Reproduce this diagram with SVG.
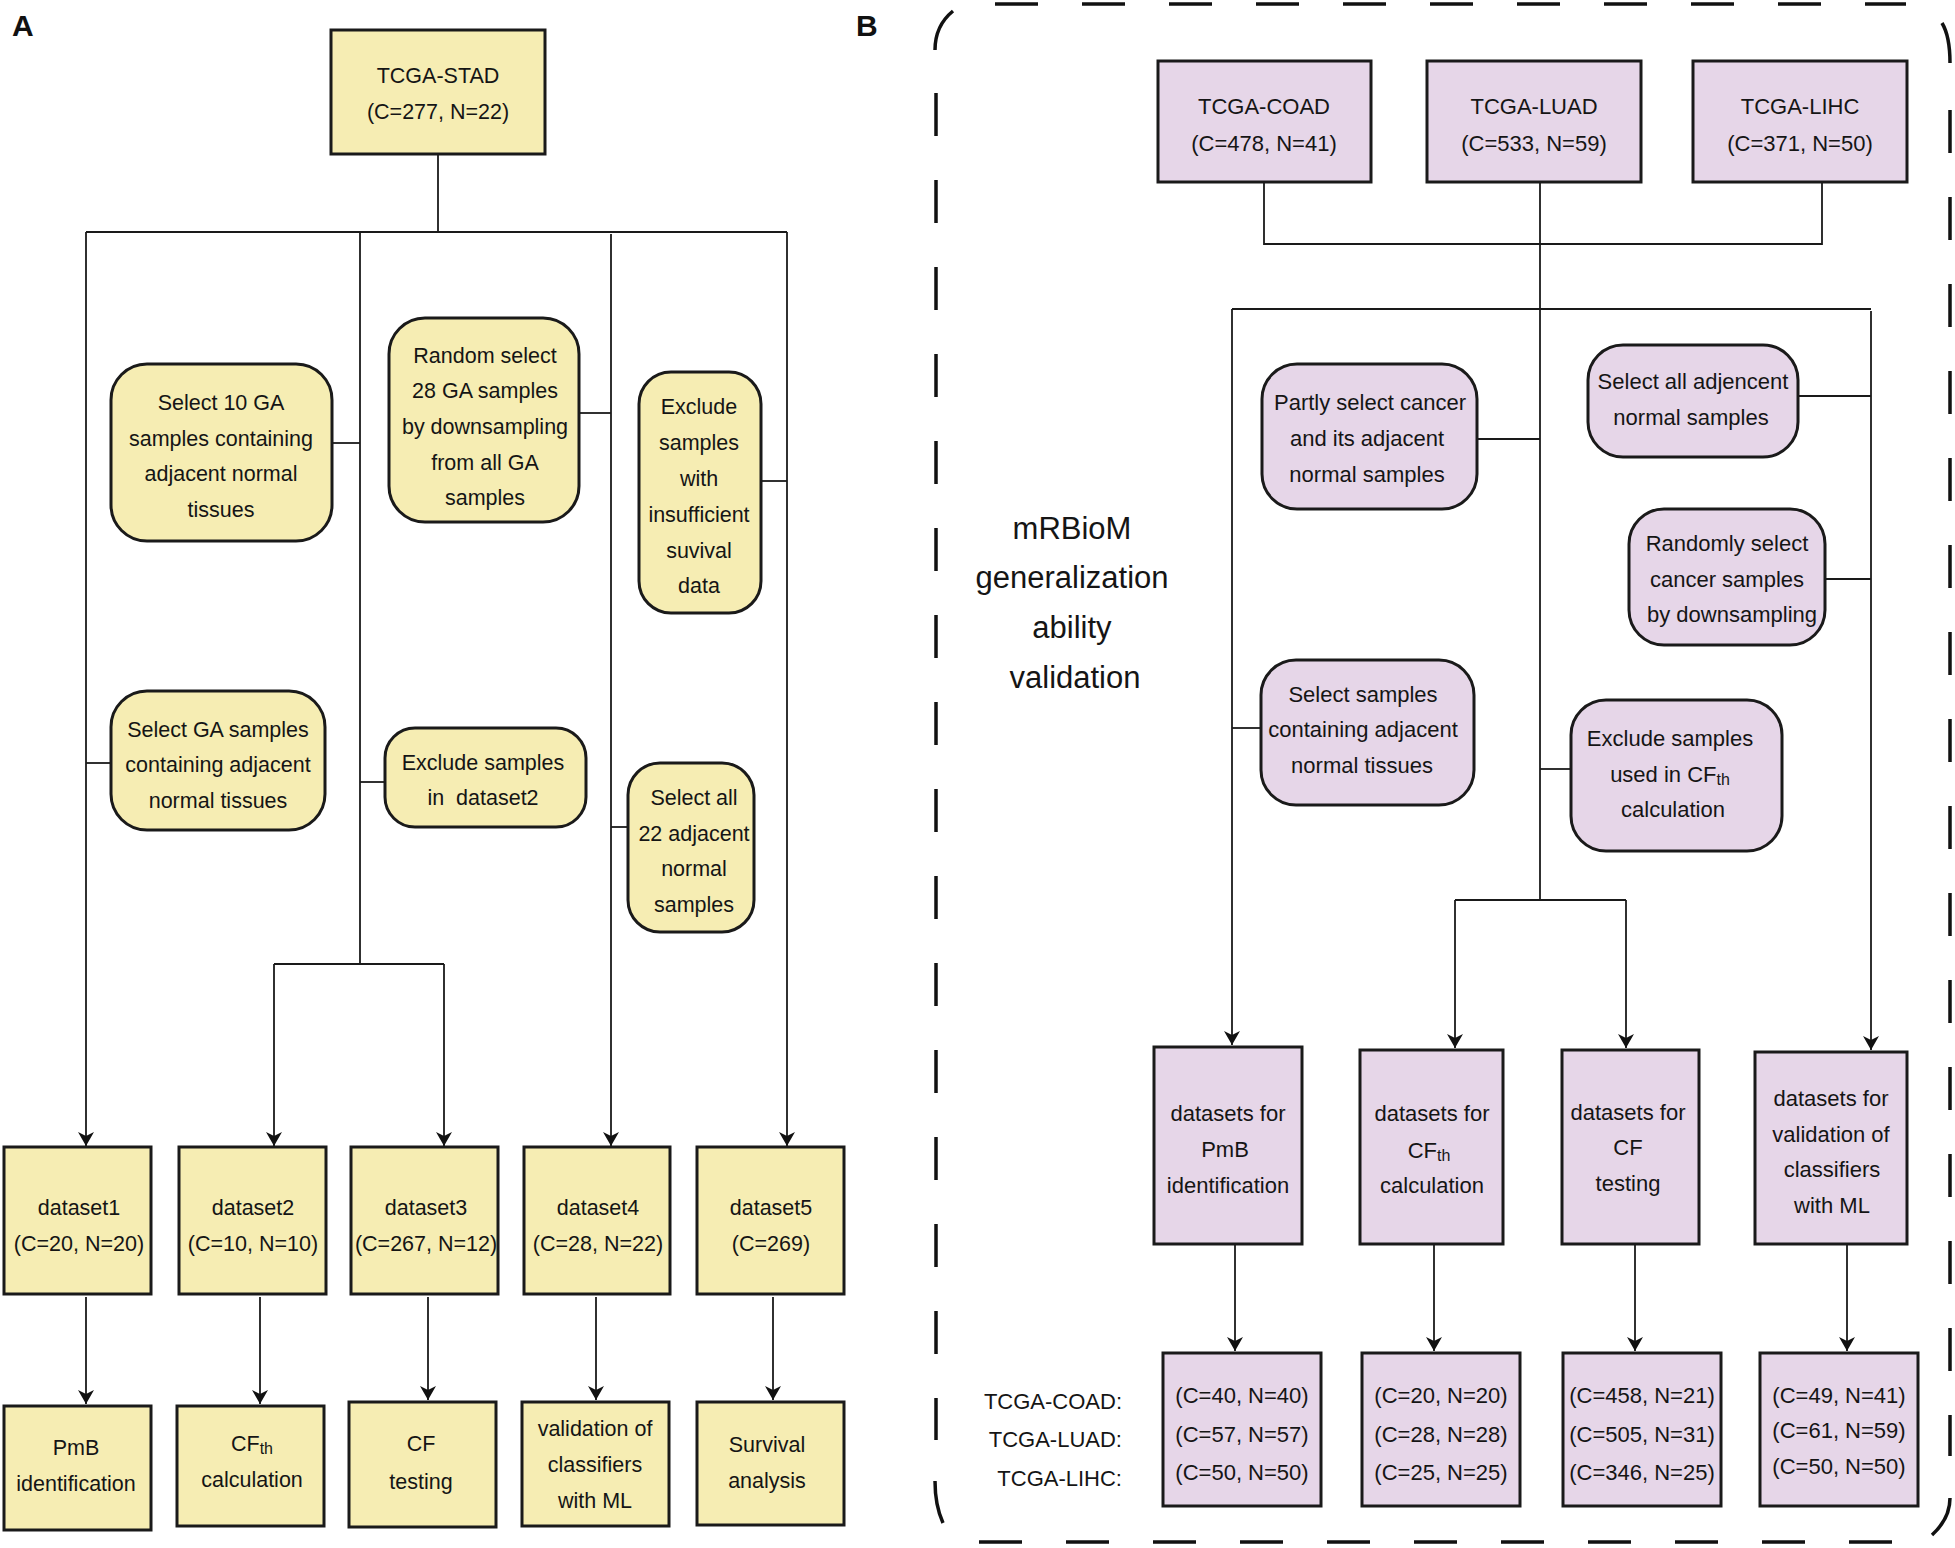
<svg xmlns="http://www.w3.org/2000/svg" width="1955" height="1548" viewBox="0 0 1955 1548">
<defs>
<marker id="arr" viewBox="0 0 14 16" refX="14" refY="8" markerWidth="14" markerHeight="16" markerUnits="userSpaceOnUse" orient="auto">
<path d="M0,0 L14,8 L0,16 L4,8 Z" fill="#111"/>
</marker>
<style>
.t{font-family:"Liberation Sans",Arial,sans-serif;font-size:21.5px;fill:#151515;text-anchor:middle}
.tb{font-family:"Liberation Sans",Arial,sans-serif;font-size:22px;fill:#151515;text-anchor:middle}
.big{font-family:"Liberation Sans",Arial,sans-serif;font-size:31px;fill:#151515;text-anchor:middle}
.lab{font-family:"Liberation Sans",Arial,sans-serif;font-size:30px;font-weight:bold;fill:#111}
.rl{font-family:"Liberation Sans",Arial,sans-serif;font-size:22px;fill:#151515;text-anchor:end}
.sub{font-size:16px}
.ya{fill:#F6EDB3;stroke:#1a1a1a;stroke-width:3}
.pb{fill:#E6D6E8;stroke:#1a1a1a;stroke-width:3}
.c{fill:none;stroke:#1a1a1a;stroke-width:1.8}
.ca{fill:none;stroke:#1a1a1a;stroke-width:1.8;marker-end:url(#arr)}
.d{fill:none;stroke:#111;stroke-width:3.5;stroke-dasharray:43 44}
.arc{fill:none;stroke:#111;stroke-width:3.5}
</style>
</defs>
<rect width="1955" height="1548" fill="#fff"/>

<text class="lab" x="12" y="36">A</text>
<text class="lab" x="856" y="36">B</text>

<!-- Panel B border -->
<g id="border">
<path class="d" d="M995,4 H1906"/>
<path class="d" d="M979,1542 H1892"/>
<path class="d" d="M936,93 V1440"/>
<path class="d" d="M1950,110 V1456"/>
<path class="arc" d="M935,50 C935,33 942,20 953,11"/>
<path class="arc" d="M1942,23 C1948,33 1950,46 1950,63"/>
<path class="arc" d="M935,1481 C935,1498 938,1512 943,1523"/>
<path class="arc" d="M1950,1498 C1950,1512 1943,1525 1932,1535"/>
</g>

<!-- Connectors -->
<g id="connectors">
<path class="c" d="M438,154 V232"/>
<path class="c" d="M86,232 H787"/>
<path class="ca" d="M86,232 V1146"/>
<path class="c" d="M360,232 V964"/>
<path class="c" d="M274,964 H444"/>
<path class="ca" d="M274,964 V1146"/>
<path class="ca" d="M444,964 V1146"/>
<path class="ca" d="M611,234 V1146"/>
<path class="ca" d="M787,232 V1146"/>
<path class="c" d="M332,443 H360"/>
<path class="c" d="M579,413 H611"/>
<path class="c" d="M761,481 H787"/>
<path class="c" d="M86,763 H111"/>
<path class="c" d="M360,782 H385"/>
<path class="c" d="M611,827 H628"/>
<path class="ca" d="M86,1297 V1404"/>
<path class="ca" d="M260,1297 V1404"/>
<path class="ca" d="M428,1297 V1400"/>
<path class="ca" d="M596,1297 V1400"/>
<path class="ca" d="M773,1297 V1400"/>

<path class="c" d="M1264,182 V244 H1822 V182"/>
<path class="c" d="M1540,182 V900"/>
<path class="c" d="M1232,309 H1871"/>
<path class="ca" d="M1232,309 V1045"/>
<path class="ca" d="M1871,311 V1050"/>
<path class="c" d="M1455,900 H1626"/>
<path class="ca" d="M1455,900 V1048"/>
<path class="ca" d="M1626,900 V1048"/>
<path class="c" d="M1477,439 H1540"/>
<path class="c" d="M1798,396 H1871"/>
<path class="c" d="M1825,579 H1871"/>
<path class="c" d="M1232,728 H1261"/>
<path class="c" d="M1540,769 H1571"/>
<path class="ca" d="M1235,1244 V1351"/>
<path class="ca" d="M1434,1244 V1351"/>
<path class="ca" d="M1635,1244 V1351"/>
<path class="ca" d="M1847,1244 V1351"/>
</g>

<!-- Panel A nodes -->
<g id="stad"><rect class="ya" x="331" y="30" width="214" height="124"/>
<text class="t" x="438" y="83">TCGA-STAD</text><text class="t" x="438" y="119">(C=277, N=22)</text></g>

<g id="sel10"><rect class="ya" x="111" y="364" width="221" height="177" rx="36"/>
<text class="t" x="221" y="410">Select 10 GA</text><text class="t" x="221" y="446">samples containing</text><text class="t" x="221" y="481">adjacent normal</text><text class="t" x="221" y="517">tissues</text></g>

<g id="random28"><rect class="ya" x="389" y="318" width="190" height="204" rx="36"/>
<text class="t" x="485" y="363">Random select</text><text class="t" x="485" y="398">28 GA samples</text><text class="t" x="485" y="434">by downsampling</text><text class="t" x="485" y="470">from all GA</text><text class="t" x="485" y="505">samples</text></g>

<g id="exclsurv"><rect class="ya" x="639" y="372" width="122" height="241" rx="32"/>
<text class="t" x="699" y="414">Exclude</text><text class="t" x="699" y="450">samples</text><text class="t" x="699" y="486">with</text><text class="t" x="699" y="522">insufficient</text><text class="t" x="699" y="558">suvival</text><text class="t" x="699" y="593">data</text></g>

<g id="selGA"><rect class="ya" x="111" y="691" width="214" height="139" rx="36"/>
<text class="t" x="218" y="737">Select GA samples</text><text class="t" x="218" y="772">containing adjacent</text><text class="t" x="218" y="808">normal tissues</text></g>

<g id="exclds2"><rect class="ya" x="385" y="728" width="201" height="99" rx="30"/>
<text class="t" x="483" y="770">Exclude samples</text><text class="t" x="483" y="805" xml:space="preserve">in  dataset2</text></g>

<g id="sel22"><rect class="ya" x="628" y="763" width="126" height="169" rx="32"/>
<text class="t" x="694" y="805">Select all</text><text class="t" x="694" y="841">22 adjacent</text><text class="t" x="694" y="876">normal</text><text class="t" x="694" y="912">samples</text></g>

<g id="ds1"><rect class="ya" x="4" y="1147" width="147" height="147"/>
<text class="t" x="79" y="1215">dataset1</text><text class="t" x="79" y="1251">(C=20, N=20)</text></g>
<g id="ds2"><rect class="ya" x="179" y="1147" width="147" height="147"/>
<text class="t" x="253" y="1215">dataset2</text><text class="t" x="253" y="1251">(C=10, N=10)</text></g>
<g id="ds3"><rect class="ya" x="351" y="1147" width="147" height="147"/>
<text class="t" x="426" y="1215">dataset3</text><text class="t" x="426" y="1251">(C=267, N=12)</text></g>
<g id="ds4"><rect class="ya" x="524" y="1147" width="146" height="147"/>
<text class="t" x="598" y="1215">dataset4</text><text class="t" x="598" y="1251">(C=28, N=22)</text></g>
<g id="ds5"><rect class="ya" x="697" y="1147" width="147" height="147"/>
<text class="t" x="771" y="1215">dataset5</text><text class="t" x="771" y="1251">(C=269)</text></g>

<g id="pmb"><rect class="ya" x="4" y="1406" width="147" height="124"/>
<text class="t" x="76" y="1455">PmB</text><text class="t" x="76" y="1491">identification</text></g>
<g id="cfth"><rect class="ya" x="177" y="1406" width="147" height="120"/>
<text class="t" x="252" y="1451">CF<tspan class="sub" dy="3">th</tspan></text><text class="t" x="252" y="1487">calculation</text></g>
<g id="cftest"><rect class="ya" x="349" y="1402" width="147" height="125"/>
<text class="t" x="421" y="1451">CF</text><text class="t" x="421" y="1489">testing</text></g>
<g id="valml"><rect class="ya" x="522" y="1402" width="147" height="124"/>
<text class="t" x="595" y="1436">validation of</text><text class="t" x="595" y="1472">classifiers</text><text class="t" x="595" y="1508">with ML</text></g>
<g id="surv"><rect class="ya" x="697" y="1402" width="147" height="123"/>
<text class="t" x="767" y="1452">Survival</text><text class="t" x="767" y="1488">analysis</text></g>

<!-- Panel B nodes -->
<g id="coad"><rect class="pb" x="1158" y="61" width="213" height="121"/>
<text class="tb" x="1264" y="114">TCGA-COAD</text><text class="tb" x="1264" y="151">(C=478, N=41)</text></g>
<g id="luad"><rect class="pb" x="1427" y="61" width="214" height="121"/>
<text class="tb" x="1534" y="114">TCGA-LUAD</text><text class="tb" x="1534" y="151">(C=533, N=59)</text></g>
<g id="lihc"><rect class="pb" x="1693" y="61" width="214" height="121"/>
<text class="tb" x="1800" y="114">TCGA-LIHC</text><text class="tb" x="1800" y="151">(C=371, N=50)</text></g>

<g id="title"><text class="big" x="1072" y="539">mRBioM</text><text class="big" x="1072" y="588">generalization</text><text class="big" x="1072" y="638">ability</text><text class="big" x="1075" y="688">validation</text></g>

<g id="partly"><rect class="pb" x="1262" y="364" width="215" height="145" rx="35"/>
<text class="tb" x="1370" y="410">Partly select cancer</text><text class="tb" x="1367" y="446">and its adjacent</text><text class="tb" x="1367" y="482">normal samples</text></g>
<g id="selall"><rect class="pb" x="1588" y="345" width="210" height="112" rx="35"/>
<text class="tb" x="1693" y="389">Select all adjencent</text><text class="tb" x="1691" y="425">normal samples</text></g>
<g id="randomly"><rect class="pb" x="1629" y="509" width="196" height="136" rx="35"/>
<text class="tb" x="1727" y="551">Randomly select</text><text class="tb" x="1727" y="587">cancer samples</text><text class="tb" x="1732" y="622">by downsampling</text></g>
<g id="selsamples"><rect class="pb" x="1261" y="660" width="213" height="145" rx="35"/>
<text class="tb" x="1363" y="702">Select samples</text><text class="tb" x="1363" y="737">containing adjacent</text><text class="tb" x="1362" y="773">normal tissues</text></g>
<g id="exclused"><rect class="pb" x="1571" y="700" width="211" height="151" rx="35"/>
<text class="tb" x="1670" y="746">Exclude samples</text><text class="tb" x="1670" y="782">used in CF<tspan class="sub" dy="3">th</tspan></text><text class="tb" x="1673" y="817">calculation</text></g>

<g id="dfpmb"><rect class="pb" x="1154" y="1047" width="148" height="197"/>
<text class="tb" x="1228" y="1121">datasets for</text><text class="tb" x="1225" y="1157">PmB</text><text class="tb" x="1228" y="1193">identification</text></g>
<g id="dfcfth"><rect class="pb" x="1360" y="1050" width="143" height="194"/>
<text class="tb" x="1432" y="1121">datasets for</text><text class="tb" x="1429" y="1158">CF<tspan class="sub" dy="3">th</tspan></text><text class="tb" x="1432" y="1193">calculation</text></g>
<g id="dfcf"><rect class="pb" x="1562" y="1050" width="137" height="194"/>
<text class="tb" x="1628" y="1120">datasets for</text><text class="tb" x="1628" y="1155">CF</text><text class="tb" x="1628" y="1191">testing</text></g>
<g id="dfval"><rect class="pb" x="1755" y="1052" width="152" height="192"/>
<text class="tb" x="1831" y="1106">datasets for</text><text class="tb" x="1831" y="1142">validation of</text><text class="tb" x="1832" y="1177">classifiers</text><text class="tb" x="1832" y="1213">with ML</text></g>

<g id="rowlabels"><text class="rl" x="1122" y="1409">TCGA-COAD:</text><text class="rl" x="1122" y="1447">TCGA-LUAD:</text><text class="rl" x="1122" y="1486">TCGA-LIHC:</text></g>

<g id="v1"><rect class="pb" x="1163" y="1353" width="158" height="153"/>
<text class="tb" x="1242" y="1403">(C=40, N=40)</text><text class="tb" x="1242" y="1442">(C=57, N=57)</text><text class="tb" x="1242" y="1480">(C=50, N=50)</text></g>
<g id="v2"><rect class="pb" x="1362" y="1353" width="158" height="153"/>
<text class="tb" x="1441" y="1403">(C=20, N=20)</text><text class="tb" x="1441" y="1442">(C=28, N=28)</text><text class="tb" x="1441" y="1480">(C=25, N=25)</text></g>
<g id="v3"><rect class="pb" x="1563" y="1353" width="158" height="153"/>
<text class="tb" x="1642" y="1403">(C=458, N=21)</text><text class="tb" x="1642" y="1442">(C=505, N=31)</text><text class="tb" x="1642" y="1480">(C=346, N=25)</text></g>
<g id="v4"><rect class="pb" x="1760" y="1353" width="158" height="153"/>
<text class="tb" x="1839" y="1403">(C=49, N=41)</text><text class="tb" x="1839" y="1438">(C=61, N=59)</text><text class="tb" x="1839" y="1474">(C=50, N=50)</text></g>
</svg>
